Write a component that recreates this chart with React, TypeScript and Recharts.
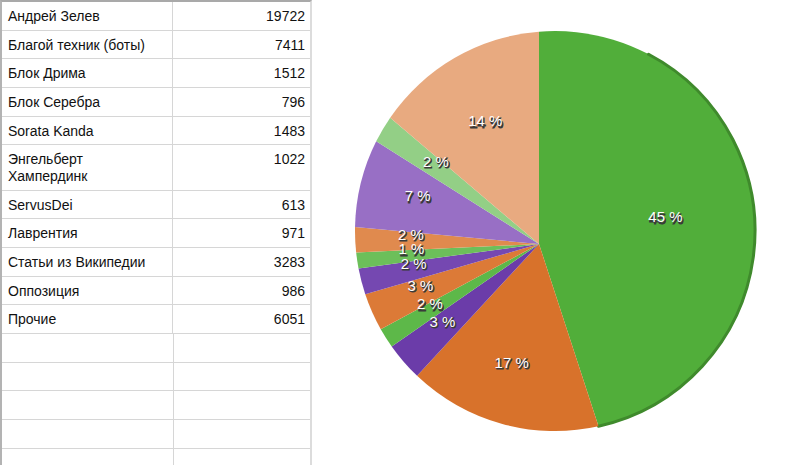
import React from 'react';
import { PieChart, Pie, Cell } from 'recharts';

// Распределение правок по участникам: таблица слева, круговая диаграмма справа

const NAMES = [
  'Андрей Зелев',
  'Благой техник (боты)',
  'Блок Дрима',
  'Блок Серебра',
  'Sorata Kanda',
  'Энгельберт Хампердинк',
  'ServusDei',
  'Лаврентия',
  'Статьи из Википедии',
  'Оппозиция',
  'Прочие',
];
const VALUES = [19722, 7411, 1512, 796, 1483, 1022, 613, 971, 3283, 986, 6051];
const COLORS = [
  '#51ae3a', '#d8722b', '#6b3ca9', '#5db849', '#dc7a37', '#7548b1',
  '#6cbf5a', '#e08a4e', '#986fc5', '#93cf86', '#e8aa80',
];
const EMPTY_ROWS = 5;

const RAD = Math.PI / 180;
const R = 200;
// центр окружности смещён относительно вершины секторов (как в оригинале)
const SHIFT_X = 16;
const SHIFT_Y = -13;
const LABEL_R = 128;
const LABEL_DY = -7;

const data = NAMES.map((name, i) => ({ name, value: VALUES[i] }));

function SliceShape(props: any) {
  const { cx, cy, startAngle, endAngle, fill } = props;
  const ox = cx + SHIFT_X;
  const oy = cy + SHIFT_Y;
  const hit = (deg: number) => {
    const ux = Math.cos(deg * RAD);
    const uy = -Math.sin(deg * RAD);
    const dx = cx - ox;
    const dy = cy - oy;
    const b = dx * ux + dy * uy;
    const c = dx * dx + dy * dy - R * R;
    const t = -b + Math.sqrt(b * b - c);
    return [cx + t * ux, cy + t * uy];
  };
  const a = hit(startAngle);
  const b = hit(endAngle);
  const angA = Math.atan2(a[1] - oy, a[0] - ox);
  const angB = Math.atan2(b[1] - oy, b[0] - ox);
  let diff = angB - angA;
  while (diff < 0) diff += Math.PI * 2;
  const large = diff > Math.PI ? 1 : 0;
  const d = `M${cx},${cy} L${a[0]},${a[1]} A${R},${R} 0 ${large} 1 ${b[0]},${b[1]} Z`;
  const isFirst = (props.payload && props.payload.name === NAMES[0]) || props.name === NAMES[0];
  // тёмный кант только с правой стороны большого сектора
  const rimStart = hit(60);
  return (
    <g>
      <path d={d} fill={fill} stroke="none" />
      {isFirst && (
        <path
          d={`M${rimStart[0]},${rimStart[1]} A${R},${R} 0 0 1 ${b[0]},${b[1]}`}
          fill="none"
          stroke="#3f8a2c"
          strokeWidth={3}
          strokeLinecap="round"
        />
      )}
    </g>
  );
}

const renderLabel = (props: any) => {
  const { cx, cy, midAngle, percent } = props;
  const x = cx + LABEL_R * Math.cos(-midAngle * RAD);
  const y = cy + LABEL_DY + LABEL_R * Math.sin(-midAngle * RAD);
  const text = `${Math.round(percent * 100)} %`;
  const common = {
    textAnchor: 'middle' as const,
    dominantBaseline: 'central' as const,
    fontSize: 15,
    fontFamily: '"Liberation Sans", Arial, sans-serif',
  };
  return (
    <g>
      <text x={x + 1} y={y + 1.5} fill="#3a3a3a" stroke="#3a3a3a" strokeWidth={1} {...common}>
        {text}
      </text>
      <text x={x} y={y} fill="#ffffff" {...common}>
        {text}
      </text>
    </g>
  );
};

const rowStyle: React.CSSProperties = {
  display: 'flex',
  borderBottom: '1px solid #d6d6d6',
  lineHeight: '17px',
};

export default function App() {
  const empty = Array.from({ length: EMPTY_ROWS }, (_, i) => i);
  return (
    <div
      style={{
        position: 'absolute',
        left: 0,
        top: 0,
        width: 800,
        height: 465,
        overflow: 'hidden',
        background: '#fff',
        fontFamily: '"Liberation Sans", Arial, sans-serif',
        fontSize: 14,
        color: '#111',
      }}
    >
      <div
        style={{
          position: 'absolute',
          left: 0,
          top: 0,
          width: 312,
          height: 465,
          borderLeft: '2px solid #b3b3b3',
          borderTop: '2px solid #a9a9a9',
          borderRight: '2px solid #dcdcdc',
          boxSizing: 'border-box',
        }}
      >
        {NAMES.map((name, i) => (
          <div key={name} style={rowStyle}>
            <div
              style={{
                width: 171,
                boxSizing: 'border-box',
                padding: '6px 20px 4.65px 6px',
                borderRight: '1px solid #d6d6d6',
              }}
            >
              {name}
            </div>
            <div
              style={{
                flex: 1,
                textAlign: 'right',
                padding: '6px 5px 4.65px 0',
              }}
            >
              {VALUES[i]}
            </div>
          </div>
        ))}
        {empty.map((i) => (
          <div key={'e' + i} style={{ ...rowStyle, height: 27.65 }}>
            <div style={{ width: 171, borderRight: '1px solid #d6d6d6' }} />
            <div style={{ flex: 1 }} />
          </div>
        ))}
      </div>
      <div style={{ position: 'absolute', left: 0, top: 0 }}>
        <PieChart width={800} height={465} margin={{ top: 0, right: 0, bottom: 0, left: 0 }}>
          <Pie
            data={data}
            dataKey="value"
            nameKey="name"
            cx={539}
            cy={244}
            outerRadius={R}
            startAngle={90}
            endAngle={-270}
            stroke="none"
            shape={SliceShape}
            label={renderLabel}
            labelLine={false}
            isAnimationActive={false}
          >
            {data.map((entry, i) => (
              <Cell key={entry.name} fill={COLORS[i]} />
            ))}
          </Pie>
        </PieChart>
      </div>
    </div>
  );
}
